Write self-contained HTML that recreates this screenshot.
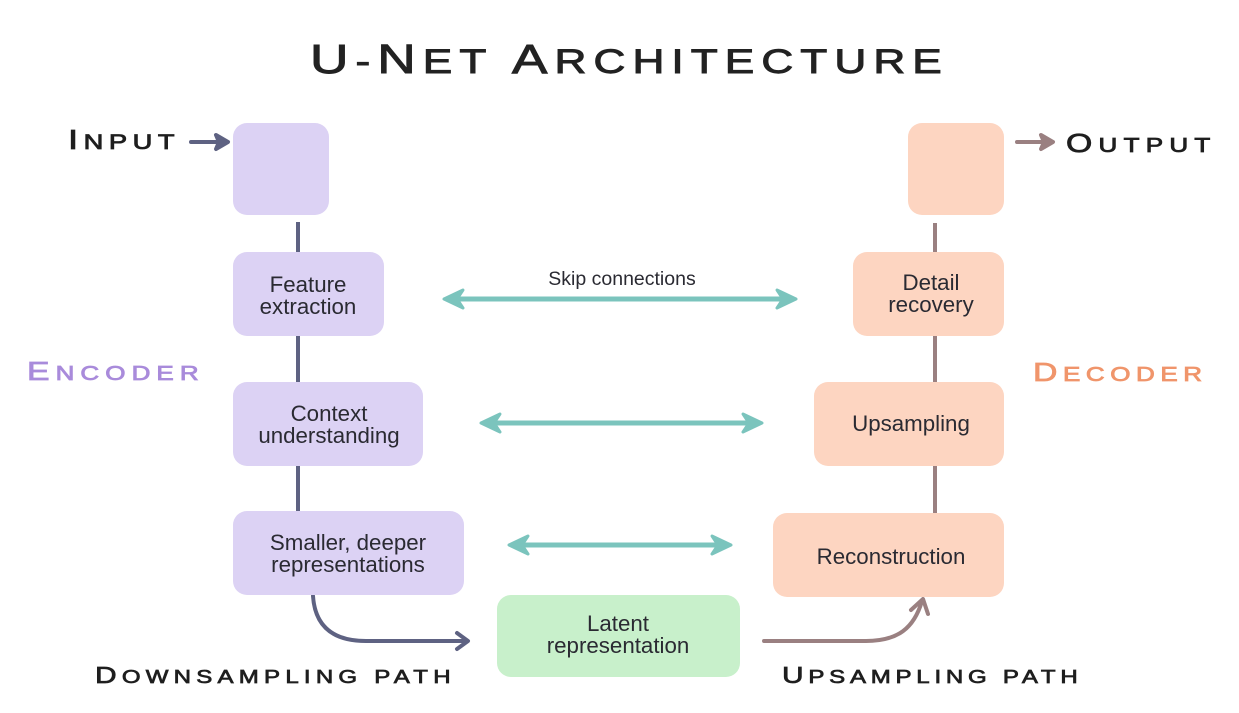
<!DOCTYPE html>
<html>
<head>
<meta charset="utf-8">
<style>
  html,body{margin:0;padding:0;background:#ffffff;}
  svg{display:block;}
  .lbl{font-family:"Liberation Sans",sans-serif;font-weight:normal;}
  .bx{font-family:"Liberation Sans",sans-serif;font-size:22.3px;fill:#2a2a32;text-anchor:middle;}
</style>
</head>
<body>
<svg width="1239" height="713" viewBox="0 0 1239 713" xmlns="http://www.w3.org/2000/svg">
  <rect x="0" y="0" width="1239" height="713" fill="#ffffff"/>

  <!-- Title -->
  <text class="lbl" transform="translate(310,73) scale(1.3,1)" x="0" y="0" font-size="34" fill="#222222" stroke="#222222" stroke-width="0.9" textLength="486" lengthAdjust="spacing"><tspan font-size="41">U</tspan>-<tspan font-size="41">N</tspan>ET <tspan font-size="41">A</tspan>RCHITECTURE</text>

  <!-- Input / Output labels -->
  <text class="lbl" transform="translate(68,149) scale(1.3,1)" x="0" y="0" font-size="21" fill="#1e1e1e" stroke="#1e1e1e" stroke-width="0.8" textLength="82" lengthAdjust="spacing"><tspan font-size="28">I</tspan>NPUT</text>
  <text class="lbl" transform="translate(1066,152) scale(1.3,1)" x="0" y="0" font-size="20" fill="#1e1e1e" stroke="#1e1e1e" stroke-width="0.8" textLength="111" lengthAdjust="spacing"><tspan font-size="26">O</tspan>UTPUT</text>

  <!-- Encoder / Decoder -->
  <text class="lbl" transform="translate(27,380) scale(1.3,1)" x="0" y="0" font-size="20" fill="#a98bdb" stroke="#a98bdb" stroke-width="0.8" textLength="132" lengthAdjust="spacing"><tspan font-size="26">E</tspan>NCODER</text>
  <text class="lbl" transform="translate(1033,381) scale(1.3,1)" x="0" y="0" font-size="20" fill="#f0956b" stroke="#f0956b" stroke-width="0.8" textLength="130" lengthAdjust="spacing"><tspan font-size="26">D</tspan>ECODER</text>

  <!-- Path labels -->
  <text class="lbl" transform="translate(95,683) scale(1.3,1)" x="0" y="0" font-size="18.5" fill="#1e1e1e" stroke="#1e1e1e" stroke-width="0.7" textLength="273.5" lengthAdjust="spacing"><tspan font-size="23">D</tspan>OWNSAMPLING PATH</text>
  <text class="lbl" transform="translate(782,683) scale(1.3,1)" x="0" y="0" font-size="18.5" fill="#1e1e1e" stroke="#1e1e1e" stroke-width="0.7" textLength="227.5" lengthAdjust="spacing"><tspan font-size="23">U</tspan>PSAMPLING PATH</text>

  <!-- Left vertical connectors -->
  <g stroke="#5e6282" stroke-width="4" fill="none">
    <line x1="298" y1="222" x2="298" y2="254"/>
    <line x1="298" y1="334" x2="298" y2="384"/>
    <line x1="298" y1="464" x2="298" y2="513"/>
  </g>
  <!-- Right vertical connectors -->
  <g stroke="#9a8081" stroke-width="4" fill="none">
    <line x1="935" y1="223" x2="935" y2="254"/>
    <line x1="935" y1="334" x2="935" y2="384"/>
    <line x1="935" y1="464" x2="935" y2="515"/>
  </g>

  <!-- Input arrow -->
  <g stroke="#5e6282" stroke-width="4" fill="#5e6282" stroke-linecap="round" stroke-linejoin="round">
    <line x1="191" y1="142" x2="222" y2="142"/>
    <polygon points="216,135 228,142 216,149 219,142"/>
  </g>
  <!-- Output arrow -->
  <g stroke="#9a8081" stroke-width="4" fill="#9a8081" stroke-linecap="round" stroke-linejoin="round">
    <line x1="1017" y1="142" x2="1047" y2="142"/>
    <polygon points="1041,135 1053,142 1041,149 1044,142"/>
  </g>

  <!-- Downsampling curve -->
  <g stroke="#5e6282" stroke-width="4" fill="none" stroke-linecap="round" stroke-linejoin="round">
    <path d="M313,596 Q316,641 366,641 L466,641"/>
    <polyline points="457,633 468,641 457,649"/>
  </g>
  <!-- Upsampling curve -->
  <g stroke="#9a8081" stroke-width="4" fill="none" stroke-linecap="round" stroke-linejoin="round">
    <path d="M764,641 L866,641 C898,641 914,628 922,601"/>
    <polyline points="911,610 923,599 928,614"/>
  </g>

  <!-- Skip connections -->
  <g stroke="#7bc4bd" stroke-width="5" fill="none" stroke-linecap="round">
    <line x1="452" y1="299" x2="788" y2="299"/>
    <line x1="489" y1="423" x2="754" y2="423"/>
    <line x1="517" y1="545" x2="723" y2="545"/>
  </g>
  <g fill="#7bc4bd" stroke="#7bc4bd" stroke-width="3" stroke-linejoin="round">
    <polygon points="444,299 463,290 457,299 463,308"/>
    <polygon points="796,299 777,290 783,299 777,308"/>
    <polygon points="481,423 500,414 494,423 500,432"/>
    <polygon points="762,423 743,414 749,423 743,432"/>
    <polygon points="509,545 528,536 522,545 528,554"/>
    <polygon points="731,545 712,536 718,545 712,554"/>
  </g>
  <text x="622" y="285" font-family="Liberation Sans, sans-serif" font-size="19.5" fill="#2a2a32" text-anchor="middle">Skip connections</text>

  <!-- Encoder boxes -->
  <rect x="233" y="123" width="96" height="92" rx="14" fill="#dcd2f4"/>
  <rect x="233" y="252" width="151" height="84" rx="14" fill="#dcd2f4"/>
  <rect x="233" y="382" width="190" height="84" rx="14" fill="#dcd2f4"/>
  <rect x="233" y="511" width="231" height="84" rx="14" fill="#dcd2f4"/>

  <!-- Decoder boxes -->
  <rect x="908" y="123" width="96" height="92" rx="14" fill="#fdd5c1"/>
  <rect x="853" y="252" width="151" height="84" rx="14" fill="#fdd5c1"/>
  <rect x="814" y="382" width="190" height="84" rx="14" fill="#fdd5c1"/>
  <rect x="773" y="513" width="231" height="84" rx="14" fill="#fdd5c1"/>

  <!-- Latent -->
  <rect x="497" y="595" width="243" height="82" rx="14" fill="#c8f0cb"/>

  <!-- Box texts -->
  <text class="bx" x="308" y="292">Feature</text>
  <text class="bx" x="308" y="314">extraction</text>

  <text class="bx" x="329" y="421">Context</text>
  <text class="bx" x="329" y="443">understanding</text>

  <text class="bx" x="348" y="550">Smaller, deeper</text>
  <text class="bx" x="348" y="572">representations</text>

  <text class="bx" x="931" y="290">Detail</text>
  <text class="bx" x="931" y="312">recovery</text>

  <text class="bx" x="911" y="431">Upsampling</text>

  <text class="bx" x="891" y="564">Reconstruction</text>

  <text class="bx" x="618" y="631">Latent</text>
  <text class="bx" x="618" y="653">representation</text>
</svg>
</body>
</html>
